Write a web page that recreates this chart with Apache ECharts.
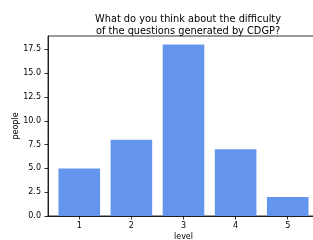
<!DOCTYPE html>
<html><head><meta charset="utf-8">
<script src="https://cdn.jsdelivr.net/npm/echarts@6/dist/echarts.min.js"></script>
<style>html,body{margin:0;padding:0;background:#fff}#c{width:313px;height:240px}</style>
</head><body><div id="c"></div>
<script>
const categories = [1, 2, 3, 4, 5];
const values = [5, 8, 18, 7, 2];
const yTicks = [0, 2.5, 5, 7.5, 10, 12.5, 15, 17.5];

const chart = echarts.init(document.getElementById('c'), null, {renderer: 'canvas'});
const font = 'DejaVu Sans';
chart.setOption({
  animation: false,
  title: {
    text: 'What do you think about the difficulty\nof the questions generated by CDGP?',
    left: 183, top: 9, textAlign: 'center',
    textStyle: {fontFamily: font, fontSize: 9.8, fontWeight: 'normal', color: '#000', lineHeight: 11.5}
  },
  grid: {left: 48, right: -6, top: 36, bottom: 24, show: true, borderColor: '#000', borderWidth: 0.8, backgroundColor: 'transparent', outerBoundsMode: 'none', containLabel: false},
  xAxis: {
    type: 'value', min: 0.4, max: 5.6,
    name: 'level', nameLocation: 'middle', nameGap: 16.5, nameMoveOverlap: false,
    nameTextStyle: {fontFamily: font, fontSize: 8, color: '#000'},
    splitLine: {show: false},
    axisLine: {show: true, lineStyle: {color: '#000', width: 0.8}},
    axisTick: {show: true, length: 3.5, lineStyle: {color: '#000', width: 0.8}, customValues: categories},
    axisLabel: {fontFamily: font, fontSize: 8, color: '#000', margin: 6, customValues: categories, formatter: v => String(v)}
  },
  yAxis: {
    type: 'value', min: 0, max: 18.9,
    name: 'people', nameLocation: 'middle', nameGap: 28, nameRotate: 90, nameMoveOverlap: false,
    nameTextStyle: {fontFamily: font, fontSize: 8, color: '#000'},
    splitLine: {show: false},
    axisLine: {show: true, lineStyle: {color: '#000', width: 0.8}},
    axisTick: {show: true, length: 3.5, lineStyle: {color: '#000', width: 0.8}, customValues: yTicks},
    axisLabel: {fontFamily: font, fontSize: 8, color: '#000', margin: 7, customValues: yTicks, formatter: v => v.toFixed(1)}
  },
  series: [{
    type: 'bar',
    data: categories.map((c, i) => [c, values[i]]),
    barWidth: 41.6,
    itemStyle: {color: '#6495ED'}
  }]
});
</script></body></html>
